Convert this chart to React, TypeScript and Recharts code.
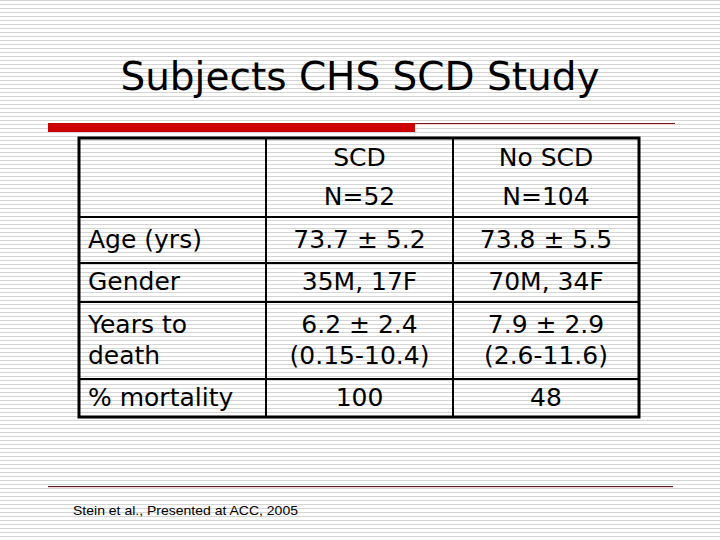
import { ComposedChart, Customized } from "recharts";

const slideTitle = "Subjects CHS SCD Study";
const columnHeaders = ["SCD", "No SCD"];
const groupSizes = ["N=52", "N=104"];
const rowLabels = [["Age (yrs)"], ["Gender"], ["Years to", "death"], ["% mortality"]];
const scdValues = [["73.7 ± 5.2"], ["35M, 17F"], ["6.2 ± 2.4", "(0.15-10.4)"], ["100"]];
const noScdValues = [["73.8 ± 5.5"], ["70M, 34F"], ["7.9 ± 2.9", "(2.6-11.6)"], ["48"]];
const sourceNote = "Stein et al., Presented at ACC, 2005";

const W = 720;
const H = 540;
const FONT = "'DejaVu Sans', Verdana, sans-serif";
const COL_X = [79, 266, 453, 639];
const ROW_Y = [138, 217, 263, 302, 379, 417];
const FS = 25;

const rows = rowLabels.map((label, i) => ({
  label,
  scd: scdValues[i],
  noScd: noScdValues[i],
}));

function Cell({ lines, x0, x1, y0, y1, align, gap = 31 }: any) {
  const cx = align === "start" ? x0 + 9 : (x0 + x1) / 2;
  // centre the block of lines in the cell
  const blockH = (lines.length - 1) * gap;
  const firstBase = (y0 + y1) / 2 - blockH / 2 + 7.5;
  return (
    <g>
      {lines.map((t: string, k: number) => (
        <text
          key={k}
          x={cx}
          y={firstBase + k * gap}
          textAnchor={align}
          fontFamily={FONT}
          fontSize={FS}
          fill="#000"
        >
          {t}
        </text>
      ))}
    </g>
  );
}

function Slide() {
  return (
    <g>
      <defs>
        <pattern id="stripes" width="4" height="4" patternUnits="userSpaceOnUse">
          <rect width="4" height="4" fill="#ffffff" />
          <rect width="4" height="1" fill="#d4d4d4" />
        </pattern>
      </defs>
      <rect x={0} y={0} width={W} height={H} fill="url(#stripes)" />

      <text x={360} y={90} textAnchor="middle" fontFamily={FONT} fontSize={39} fill="#000">
        {slideTitle}
      </text>

      {/* title rule */}
      <rect x={48} y={123} width={627} height={1} fill="#7a1a1a" />
      <rect x={48} y={124} width={627} height={1} fill="#f4d4d4" />
      <rect x={48} y={123} width={367} height={9} fill="#cc0000" />

      {/* header row */}
      {columnHeaders.map((h, j) => (
        <Cell
          key={h}
          lines={[h, groupSizes[j]]}
          x0={COL_X[j + 1]}
          x1={COL_X[j + 2]}
          y0={ROW_Y[0]}
          y1={ROW_Y[1]}
          align="middle"
          gap={39}
        />
      ))}

      {rows.map((r, i) => (
        <g key={i}>
          <Cell lines={r.label} x0={COL_X[0]} x1={COL_X[1]} y0={ROW_Y[i + 1]} y1={ROW_Y[i + 2]} align="start" />
          <Cell lines={r.scd} x0={COL_X[1]} x1={COL_X[2]} y0={ROW_Y[i + 1]} y1={ROW_Y[i + 2]} align="middle" />
          <Cell lines={r.noScd} x0={COL_X[2]} x1={COL_X[3]} y0={ROW_Y[i + 1]} y1={ROW_Y[i + 2]} align="middle" />
        </g>
      ))}

      {/* inner grid */}
      {ROW_Y.slice(1, -1).map((y) => (
        <line key={`h${y}`} x1={COL_X[0]} x2={COL_X[3]} y1={y} y2={y} stroke="#000" strokeWidth={2} />
      ))}
      {COL_X.slice(1, -1).map((x) => (
        <line key={`v${x}`} x1={x} x2={x} y1={ROW_Y[0]} y2={ROW_Y[ROW_Y.length - 1]} stroke="#000" strokeWidth={2} />
      ))}
      <rect
        x={COL_X[0]}
        y={ROW_Y[0]}
        width={COL_X[3] - COL_X[0]}
        height={ROW_Y[ROW_Y.length - 1] - ROW_Y[0]}
        fill="none"
        stroke="#000"
        strokeWidth={3}
      />

      {/* footer rule */}
      <rect x={48} y={486} width={625} height={1} fill="#5a1f1f" />
      <rect x={48} y={487} width={625} height={1} fill="#f4d4d4" />

      <text
        x={73}
        y={515}
        fontFamily="'Liberation Sans', Arial, sans-serif"
        fontSize={13}
        textLength={225}
        lengthAdjust="spacingAndGlyphs"
        fill="#000"
      >
        {sourceNote}
      </text>
    </g>
  );
}

export default function App() {
  return (
    <div style={{ position: "absolute", left: 0, top: 0, width: W, height: H }}>
      <ComposedChart width={W} height={H} data={rows} margin={{ top: 0, right: 0, bottom: 0, left: 0 }}>
        <Customized component={Slide} />
      </ComposedChart>
    </div>
  );
}
